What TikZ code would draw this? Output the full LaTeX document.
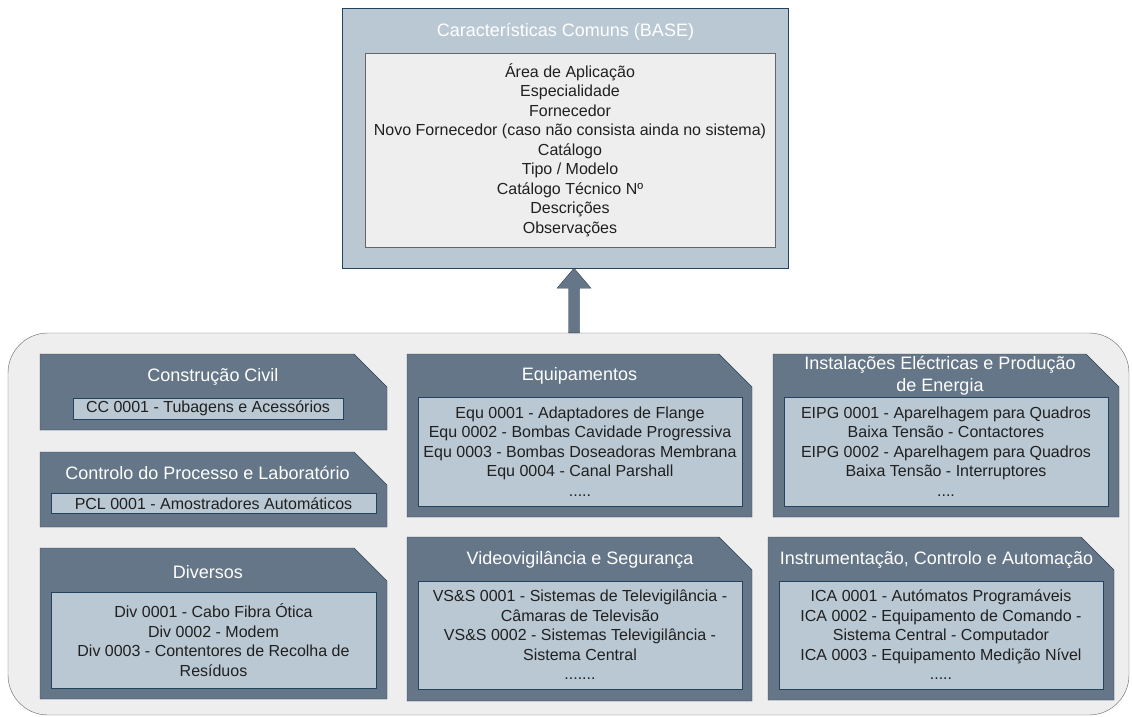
\documentclass[tikz,border=0pt]{standalone}
\usepackage{fontspec}
\setmainfont{Liberation Sans}
\usetikzlibrary{calc}

\definecolor{cinzafundo}{HTML}{EEEEEE}
\definecolor{cinzaborda}{HTML}{666666}
\definecolor{azulclaro}{HTML}{BAC8D3}
\definecolor{azulborda}{HTML}{23445D}
\definecolor{ardosia}{HTML}{647687}
\definecolor{ardosiaborda}{HTML}{314354}
\definecolor{texto}{HTML}{202020}

\tikzset{
  caixa/.style = {draw = azulborda, fill = azulclaro, text = texto, align = center, inner sep = 0pt, font = \fontsize{16}{19.5}\selectfont},
  cartao/.style = {draw = ardosiaborda, fill = ardosia},
  titulo/.style = {text = white, align = center, inner sep = 0pt, font = \fontsize{18}{21.5}\selectfont},
  seta/.style = {draw = ardosiaborda, fill = ardosia},
}

\begin{document}
\begin{tikzpicture}[x = 1pt, y = -1pt]
\useasboundingbox (0, 0) rectangle (1132, 717);
% grupo das especialidades
\node[draw = cinzaborda, fill = cinzafundo, rounded corners = 40, minimum width = 1121, minimum height = 382] (grupo) at (568.5, 524) {};
% caracteristicas comuns
\node[draw = azulborda, fill = azulclaro, minimum width = 446, minimum height = 260] (base) at (565.5, 138) {};
\node[titulo] (base titulo) at (565.5, 32) {Características Comuns (BASE)};
\node[caixa, draw = cinzaborda, fill = cinzafundo, minimum width = 410, minimum height = 194] (base lista) at (570, 150)
  {Área de Aplicação\\Especialidade\\Fornecedor\\Novo Fornecedor (caso não consista ainda no sistema)\\Catálogo\\Tipo / Modelo\\Catálogo Técnico Nº\\Descrições\\Observações};
% seta
\coordinate (ponta) at ($(base.south) + (8.5, 0)$);
\coordinate (pe) at (ponta |- grupo.north);
\draw[seta] ($(pe) + (-5.5, 0)$) -- ($(ponta) + (-5.5, 20)$) -- ($(ponta) + (-17, 20)$) -- (ponta)
  -- ($(ponta) + (17, 20)$) -- ($(ponta) + (5.5, 20)$) -- ($(pe) + (5.5, 0)$) -- cycle;
% cartoes
\foreach \xa/\ya/\xb/\yb in {40/354/387/430, 40/452/387/527, 40/548/387/699, 407/354/752/517, 773/354/1119/517, 407/537/752/701, 768/537/1114/700}
  \draw[cartao] (\xa, \ya) -- ({\xb - 33}, \ya) -- (\xb, {\ya + 33}) -- (\xb, \yb) -- (\xa, \yb) -- cycle;

\node[titulo] (cc titulo) at (213, 377) {Construção Civil};
\node[caixa, minimum width = 270, minimum height = 21] (cc lista) at (208, 408.5) {CC 0001 - Tubagens e Acessórios};

\node[titulo] (pcl titulo) at (207.5, 473) {Controlo do Processo e Laboratório};
\node[caixa, minimum width = 325, minimum height = 20] (pcl lista) at (213.5, 503.5) {PCL 0001 - Amostradores Automáticos};

\node[titulo] (div titulo) at (208, 572) {Diversos};
\node[caixa, minimum width = 325, minimum height = 96] (div lista) at (213.5, 640)
  {Div 0001 - Cabo Fibra Ótica\\Div 0002 - Modem\\Div 0003 - Contentores de Recolha de\\Resíduos};

\node[titulo] (equ titulo) at (579.5, 376) {Equipamentos};
\node[caixa, minimum width = 324, minimum height = 109] (equ lista) at (580, 451.5)
  {Equ 0001 - Adaptadores de Flange\\Equ 0002 - Bombas Cavidade Progressiva\\Equ 0003 - Bombas Doseadoras Membrana\\Equ 0004 - Canal Parshall\\.....};

\node[titulo] (eipg titulo) at (940, 375.5) {Instalações Eléctricas e Produção\\de Energia};
\node[caixa, minimum width = 324, minimum height = 109] (eipg lista) at (946, 451.5)
  {EIPG 0001 - Aparelhagem para Quadros\\Baixa Tensão - Contactores\\EIPG 0002 - Aparelhagem para Quadros\\Baixa Tensão - Interruptores\\....};

\node[titulo] (vss titulo) at (580, 560) {Videovigilância e Segurança};
\node[caixa, minimum width = 324, minimum height = 108] (vss lista) at (580, 635)
  {VS\&S 0001 - Sistemas de Televigilância -\\Câmaras de Televisão\\VS\&S 0002 - Sistemas Televigilância -\\Sistema Central\\.......};

\node[titulo] (ica titulo) at (936.5, 560) {Instrumentação, Controlo e Automação};
\node[caixa, minimum width = 324, minimum height = 108] (ica lista) at (941, 635)
  {ICA 0001 - Autómatos Programáveis\\ICA 0002 - Equipamento de Comando -\\Sistema Central - Computador\\ICA 0003 - Equipamento Medição Nível\\.....};
\end{tikzpicture}
\end{document}
